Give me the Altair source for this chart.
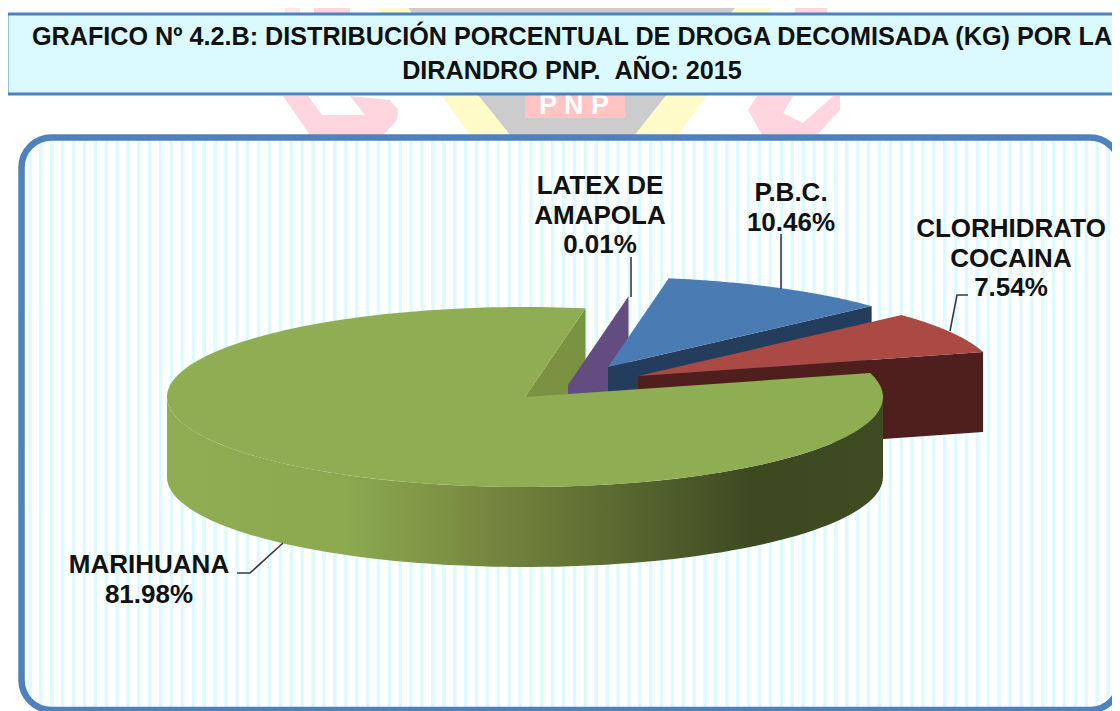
import numpy as np
import pandas as pd
import altair as alt

# ---- chart values
categories = ["MARIHUANA", "LATEX DE AMAPOLA", "P.B.C.", "CLORHIDRATO COCAINA"]
shares = [81.98, 0.01, 10.46, 7.54]
title_lines = ["GRAFICO Nº 4.2.B: DISTRIBUCIÓN PORCENTUAL DE DROGA DECOMISADA (KG) POR LA",
               "DIRANDRO PNP.\u00a0\u00a0AÑO: 2015"]
label_lines = [["MARIHUANA", "81.98%"],
               ["LATEX DE", "AMAPOLA", "0.01%"],
               ["P.B.C.", "10.46%"],
               ["CLORHIDRATO", "COCAINA", "7.54%"]]

# ---- layout (page pixels)
A, B, DEPTH = 358, 90, 80
START = 74.6
APEX = [(525, 397), (568, 385), (608, 367), (638, 376)]
LABEL_XY = [(149, 565), (600, 186), (791, 193), (1011, 229)]
LINE_H = 29.5
LEADERS = [[(237, 573), (250, 573), (283, 543)],
           [(631, 257), (631, 297)],
           [(781, 234), (781, 289)],
           [(968, 295), (957, 295), (950, 331)]]
TOP_FILL = ["#8FAD52", "#634C7F", "#4A7BB3", "#AB4A44"]
WALL_FILL = ["#7C9243", "#634C7F", "#243D5C", "#4F1F1E"]

X = alt.X("x:Q", axis=None, scale=alt.Scale(domain=[8, 1112], nice=False, zero=False))
Y = alt.Y("y:Q", axis=None, scale=alt.Scale(domain=[711, 8], nice=False, zero=False))


def poly(points, fill):
    df = pd.DataFrame(points, columns=["x", "y"]).assign(i=range(len(points)))
    return alt.Chart(df).mark_line(fill=fill, strokeOpacity=0, interpolate="linear-closed").encode(
        x=X, y=Y, order="i:Q")


def box(x, x2, y, y2, **kw):
    df = pd.DataFrame({"x": [x], "x2": [x2], "y": [y], "y2": [y2]})
    return alt.Chart(df).mark_rect(**kw).encode(x=X, x2="x2:Q", y=Y, y2="y2:Q")


def text(s, x, y, size, font="Liberation Sans", color="#111111", weight="bold"):
    df = pd.DataFrame({"x": [x], "y": [y], "t": [s]})
    return alt.Chart(df).mark_text(font=font, fontSize=size, fontWeight=weight, color=color,
                                   align="center", baseline="middle").encode(x=X, y=Y, text="t:N")


def rim(center, deg):
    r = np.radians(deg)
    return center[0] + A * np.sin(r), center[1] - B * np.cos(r)


def arc(center, a0, a1, n=90):
    return [rim(center, d) for d in np.linspace(a0, a1, n)]


def edge_wall(center, deg):
    px, py = rim(center, deg)
    return [center, (px, py), (px, py + DEPTH), (center[0], center[1] + DEPTH)]


# slice angles from the shares
ends = START + np.cumsum(shares) * 3.6
starts = np.concatenate([[START], ends[:-1]])

layers = []

# watermark behind
PINK, YEL, GRAY = "#FFD6E0", "#FFFBC8", "#CCCCCC"
layers += [
    poly([(404, 3), (739, 3), (635, 135), (510, 135)], GRAY),
    poly([(374, 3), (404, 3), (510, 135), (470, 135)], YEL),
    poly([(739, 3), (775, 3), (678, 135), (635, 135)], YEL),
    poly([(314, 3), (350, 3), (350, 14), (314, 14)], PINK),
    poly([(285, 6), (300, 6), (300, 14), (285, 14)], "#FFE6EC"),
    poly([(795, 3), (827, 3), (827, 14), (795, 14)], PINK),
    poly([(283, 96), (308, 96), (322, 115), (365, 115), (350, 96), (390, 100), (398, 110),
          (397, 120), (383, 135), (310, 135)], PINK),
    poly([(757, 96), (793, 96), (783, 113), (803, 123), (833, 96), (840, 96), (840, 110),
          (817, 135), (762, 135), (748, 110)], PINK),
    box(525, 625, 90, 118, color="#FFC4C4"),
    text("P N P", 574, 106, 27, color="white"),
]

# title box
layers.append(box(7, 1130, 14, 94, fill="#DAFAFF", stroke="#4F81BD", strokeWidth=3))
layers += [text(line, 572, y, 25.2, font="Liberation Sans")
           for line, y in zip(title_lines, [37, 71])]

# panel with stripes
L, R, T, Bt, RAD = 21.5, 1120, 137.5, 710, 30
layers.append(box(L, R, T, Bt, fill="white"))
stripe_x = np.arange(30, 1118, 10.89)
inset = [RAD - np.sqrt(max(RAD ** 2 - max(L + RAD - sx, sx - (R - RAD), 0) ** 2, 0)) for sx in stripe_x]
stripes = pd.DataFrame({"x": stripe_x, "y": T + np.array(inset), "y2": Bt - np.array(inset)})
layers.append(alt.Chart(stripes).mark_rule(color="#DDFBFF", strokeWidth=3.5).encode(x=X, y=Y, y2="y2:Q"))
layers.append(box(L, R, T, Bt, fillOpacity=0, stroke="#4F81BD", strokeWidth=6.5, cornerRadius=RAD))

# pie, back to front
layers.append(poly(edge_wall(APEX[0], ends[0]), WALL_FILL[0]))
layers.append(poly(edge_wall(APEX[1], starts[1]), WALL_FILL[1]))
layers.append(poly(edge_wall(APEX[2], ends[2]), WALL_FILL[2]))
layers.append(poly([APEX[2]] + arc(APEX[2], starts[2], ends[2]), TOP_FILL[2]))
layers.append(poly(edge_wall(APEX[3], ends[3]), WALL_FILL[3]))
layers.append(poly([APEX[3]] + arc(APEX[3], starts[3], ends[3]), TOP_FILL[3]))

front = arc(APEX[0], 90, 270)
wall_pts = front + [(x, y + DEPTH) for x, y in reversed(front)]
green_wall = alt.Gradient(
    gradient="linear", x1=0, x2=1, y1=0, y2=0,
    stops=[alt.GradientStop(offset=0, color="#8FAD52"),
           alt.GradientStop(offset=0.25, color="#8CA950"),
           alt.GradientStop(offset=0.44, color="#76893F"),
           alt.GradientStop(offset=0.64, color="#586830"),
           alt.GradientStop(offset=0.82, color="#3C4921"),
           alt.GradientStop(offset=1, color="#3F4C22")])
layers.append(poly(wall_pts, green_wall))
layers.append(poly([APEX[0]] + arc(APEX[0], starts[0], ends[0], 200), TOP_FILL[0]))

# leaders and labels
for seg in LEADERS:
    df = pd.DataFrame(seg, columns=["x", "y"]).assign(i=range(len(seg)))
    layers.append(alt.Chart(df).mark_line(color="#3A3A3A", strokeWidth=1.6).encode(x=X, y=Y, order="i:Q"))
for lines, (lx, ly) in zip(label_lines, LABEL_XY):
    layers += [text(t, lx, ly + k * LINE_H, 26) for k, t in enumerate(lines)]

chart = alt.layer(*layers).properties(
    width=1104, height=703, padding=0, autosize=alt.AutoSizeParams(type="none"),
    background="white",
).configure_view(stroke=None)

chart.save("out.html", embed_options={"renderer": "svg", "actions": False})
